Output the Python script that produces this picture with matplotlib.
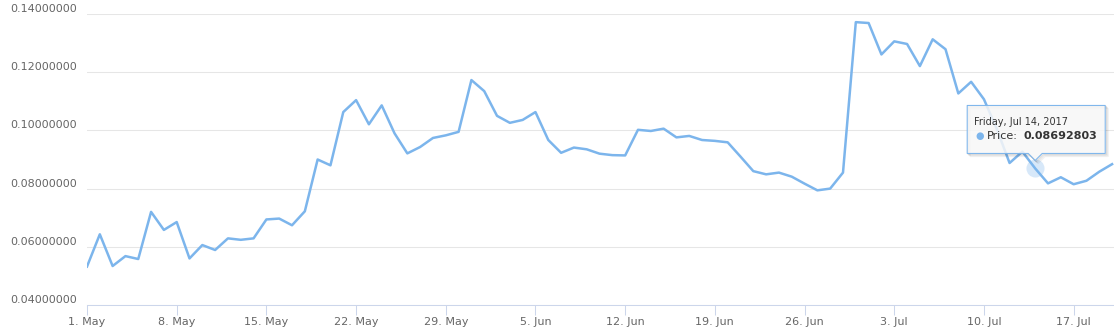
import matplotlib
matplotlib.use("Agg")
import matplotlib.pyplot as plt
import matplotlib.dates as mdates
import matplotlib.transforms as mtransforms
from matplotlib.patches import Polygon
import pandas as pd

# daily price, 1 May 2017 .. 20 Jul 2017
start_date = "2017-05-01"
may_prices = [0.0532, 0.0643, 0.0534, 0.0568, 0.0558, 0.0720, 0.0658, 0.0685, 0.0560, 0.0606,
              0.0589, 0.0629, 0.0624, 0.0629, 0.0694, 0.0697, 0.0674, 0.0722, 0.0900, 0.0880,
              0.1063, 0.1104, 0.1021, 0.1086, 0.0990, 0.0921, 0.0943, 0.0974, 0.0983, 0.0995,
              0.1173]
jun_prices = [0.1135, 0.1050, 0.1026, 0.1036, 0.1063, 0.0967, 0.0923, 0.0941, 0.0935, 0.0920,
              0.0915, 0.0914, 0.1002, 0.0998, 0.1006, 0.0976, 0.0981, 0.0967, 0.0964, 0.0959,
              0.0910, 0.0860, 0.0849, 0.0855, 0.0841, 0.0817, 0.0794, 0.0800, 0.0855, 0.1372]
jul_prices = [0.1369, 0.1261, 0.1306, 0.1297, 0.1221, 0.1313, 0.1279, 0.1127, 0.1167, 0.1107,
              0.1005, 0.0888, 0.0927, 0.08692803, 0.0818, 0.0839, 0.0815, 0.0827, 0.0858, 0.0884]
prices = may_prices + jun_prices + jul_prices
dates = pd.date_range(start_date, periods=len(prices), freq="D")

y_ticks = [0.04, 0.06, 0.08, 0.10, 0.12, 0.14]
x_ticks = pd.date_range(start_date, "2017-07-17", freq="7D")
hover_date = pd.Timestamp("2017-07-14")

line_color = "#7cb5ec"
label_color = "#666666"

fig = plt.figure(figsize=(11.14, 3.34), dpi=100)
ax = fig.add_axes([87 / 1114, 29 / 334, 1027 / 1114, 291 / 334])

ax.plot(dates, prices, color=line_color, lw=1.8, solid_joinstyle="round", zorder=3)

ax.set_ylim(0.04, 0.14)
ax.set_xlim(mdates.date2num(dates[0]), mdates.date2num(dates[-1]) + 0.15)

ax.set_yticks(y_ticks)
ax.set_yticklabels(["%.8f" % v for v in y_ticks])
ax.set_xticks(x_ticks)
ax.set_xticklabels(["%d. %s" % (d.day, d.strftime("%b")) for d in x_ticks])

ax.grid(axis="y", color="#e6e6e6", lw=0.75)
ax.set_axisbelow(True)
for s in ["top", "right", "left"]:
    ax.spines[s].set_visible(False)
ax.spines["bottom"].set_color("#ccd6eb")
ax.spines["bottom"].set_linewidth(0.75)

ax.tick_params(axis="y", length=0, pad=77 * 0.72, labelsize=8, labelcolor=label_color)
ax.tick_params(axis="x", length=7.2, width=0.75, color="#ccd6eb", pad=1.5,
               labelsize=8, labelcolor=label_color)
shift_up = mtransforms.ScaledTranslation(0, 6 / 100, fig.dpi_scale_trans)
for lab in ax.get_yticklabels():
    lab.set_horizontalalignment("left")
    lab.set_transform(lab.get_transform() + shift_up)

# hover state at 14 Jul
i = list(dates).index(hover_date)
hx, hy = mdates.date2num(dates[i]), prices[i]
ax.scatter([hx], [hy], s=170, color=line_color, alpha=0.3, lw=0, zorder=4)

px, py = ax.transData.transform((hx, hy))
ident = mtransforms.IdentityTransform()
L, R, B, T = px - 68, px + 70, py + 15, py + 63
outline = [(L, B), (px - 7, B), (px, py + 8), (px + 7, B), (R, B), (R, T), (L, T)]
for k, a in [(3, 0.05), (2, 0.08), (1, 0.12)]:
    sh = Polygon([(x + k, y - k) for x, y in outline], closed=True, transform=ident,
                 facecolor="none", edgecolor="black", alpha=a, lw=1, clip_on=False, zorder=5)
    ax.add_patch(sh)
box = Polygon(outline, closed=True, transform=ident, facecolor=(0.969, 0.969, 0.969, 0.85),
              edgecolor=line_color, lw=0.75, joinstyle="round", clip_on=False, zorder=6)
ax.add_patch(box)

ax.text(L + 7, py + 46.5, "%s, %s %d, %d" % (dates[i].strftime("%A"), dates[i].strftime("%b"),
                                            dates[i].day, dates[i].year),
        transform=ident, fontsize=7, color="#333333", va="center", ha="left", zorder=7)
ax.text(L + 12, py + 32.5, "\u25cf", transform=ident, fontsize=7, color=line_color,
        va="center", ha="center", zorder=7)
ax.text(L + 20, py + 32.5, "Price:", transform=ident, fontsize=8, color="#333333",
        va="center", ha="left", zorder=7)
ax.text(L + 56, py + 32.5, "%.8f" % hy, transform=ident, fontsize=8, color="#333333",
        fontweight="bold", va="center", ha="left", zorder=7)

fig.savefig("out.png", dpi=100)
